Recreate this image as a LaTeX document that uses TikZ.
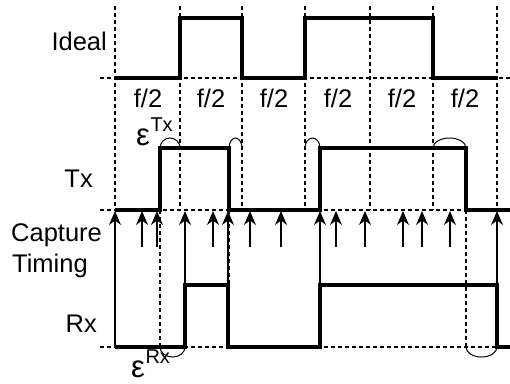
\documentclass[tikz,border=0pt]{standalone}
\usepackage{fontspec}
\setmainfont{Liberation Sans}
\usetikzlibrary{arrows.meta}
\tikzset{
  wave/.style={line width=4pt, line join=miter},
  gridline/.style={line width=1.3pt, dash pattern=on 4pt off 3pt},
  capt/.style={line width=1.3pt, -{Stealth[length=14pt,width=12pt,inset=4.5pt]}},
  epsarc/.style={line width=1pt},
  lbl/.style={inner sep=0pt, font=\fontsize{25.5}{25.5}\selectfont},
}
\newcommand{\epslabel}[1]{{\fontsize{31}{31}\selectfont ε}\kern0.5pt\raisebox{14pt}{\fontsize{20}{20}\selectfont #1}}
\begin{document}
\begin{tikzpicture}[x=1pt,y=-1pt]
\useasboundingbox (0,0) rectangle (510,383);
% dashed horizontal baselines
\draw[gridline] (100,78) -- (510,78);
\draw[gridline] (100,210) -- (510,210);
\draw[gridline] (100,347) -- (510,347);
% dashed vertical grid
\foreach \x in {115,180,242,305,370,433,497}
  \draw[gridline] (\x,6) -- (\x,210);
% dashed edge extensions
\draw[gridline] (160,210) -- (160,347);
\draw[gridline] (229,210) -- (229,285);
\draw[gridline] (466,210) -- (466,347);
% capture arrows (short)
\foreach \x in {142,157,213,250,281,336,365,403,422,450}
  \draw[capt] (\x,247) -- (\x,211);
% capture arrows (long)
\draw[capt] (115,347) -- (115,211);
\foreach \x in {185,228,320,497}
  \draw[capt] (\x,285) -- (\x,211);
% waveforms
\draw[wave] (115,78) -- (180,78) -- (180,18) -- (242,18) -- (242,78) -- (305,78) -- (305,18) -- (433,18) -- (433,78) -- (497,78);
\draw[wave] (115,210) -- (160,210) -- (160,148) -- (229,148) -- (229,210) -- (320,210) -- (320,148) -- (466,148) -- (466,210) -- (510,210);
\draw[wave] (115,347) -- (185,347) -- (185,285) -- (228,285) -- (228,347) -- (320,347) -- (320,285) -- (497,285) -- (497,347) -- (510,347);
% epsilon arcs
\draw[epsarc] (160,148) arc[start angle=180, end angle=0, x radius=10pt, y radius=10pt];
\draw[epsarc] (229,148) arc[start angle=180, end angle=0, x radius=6.5pt, y radius=10pt];
\draw[epsarc] (305,148) arc[start angle=180, end angle=0, x radius=7.5pt, y radius=10pt];
\draw[epsarc] (433,148) arc[start angle=180, end angle=0, x radius=16.5pt, y radius=10pt];
\draw[epsarc] (160,347) arc[start angle=180, end angle=360, x radius=12.5pt, y radius=10pt];
\draw[epsarc] (466,347) arc[start angle=180, end angle=360, x radius=15.5pt, y radius=10pt];
% labels
\node[lbl, anchor=base east] (ideal) at (107,50) {Ideal};
\node[lbl, anchor=base east] (tx) at (93,187) {Tx};
\node[lbl, anchor=base east] (rx) at (97,332) {Rx};
\node[lbl, anchor=base west] (capture) at (11,241) {Capture};
\node[lbl, anchor=base west] (timing) at (12,272) {Timing};
\foreach \cx/\n in {148/a,211/b,274/c,338/d,402/e,465/f}
  \node[lbl, anchor=base] (half\n) at (\cx,107) {f/2};
\node[lbl, anchor=base west] (epstx) at (136,145) {\epslabel{Tx}};
\node[lbl, anchor=base west] (epsrx) at (131,377) {\epslabel{Rx}};
\end{tikzpicture}
\end{document}
